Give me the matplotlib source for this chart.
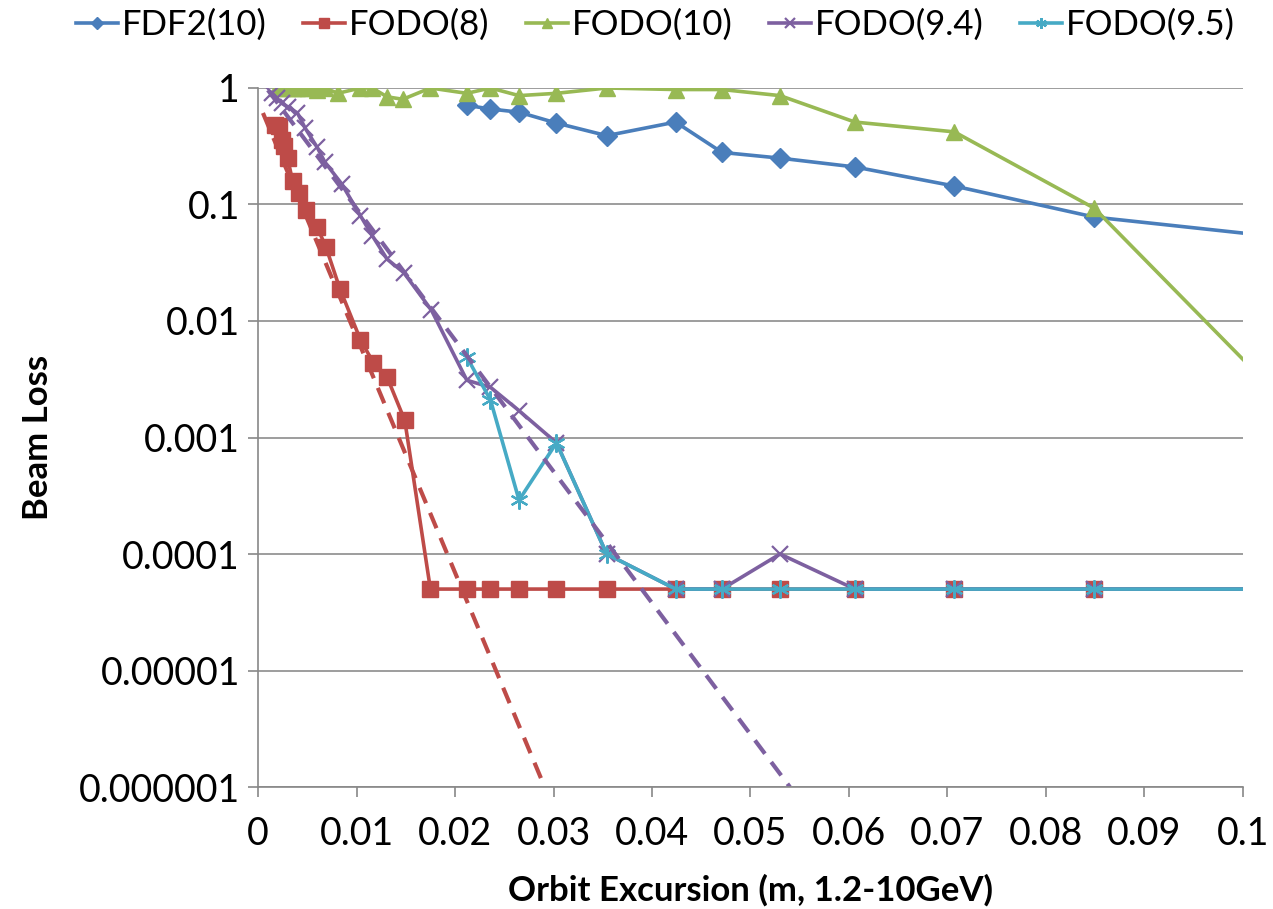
import matplotlib
matplotlib.use('Agg')
import matplotlib.pyplot as plt

plt.rcParams['font.family'] = ['Lato', 'DejaVu Sans']

# shared x points for the larger excursions
x_far = [0.0212, 0.0236, 0.0265, 0.0303, 0.0354, 0.0424, 0.0471, 0.0530, 0.0606, 0.0707, 0.0849, 0.1061]

# FDF2(10)
fdf2_x = x_far
fdf2_y = [0.71, 0.66, 0.62, 0.50, 0.39, 0.51, 0.28, 0.25, 0.21, 0.144, 0.078, 0.050]

# FODO(8)
f8_x = [0.0017, 0.0021, 0.0024, 0.00265, 0.0030, 0.0035, 0.0042, 0.0049, 0.0060, 0.0069, 0.0083,
        0.0104, 0.0117, 0.0131, 0.0149, 0.0175] + x_far
f8_y = [0.48, 0.47, 0.36, 0.32, 0.25, 0.16, 0.125, 0.09, 0.064, 0.043, 0.019,
        0.0069, 0.0044, 0.0033, 0.0014, 5e-5] + [5e-5] * 12

# FODO(10)
f10_x = [0.0019, 0.0024, 0.0029, 0.0035, 0.0040, 0.0045, 0.0051, 0.0060, 0.0068, 0.0081,
         0.0104, 0.0116, 0.0131, 0.0147, 0.0175] + x_far
f10_y = [1, 1, 1, 1, 1, 1, 1, 0.97, 1, 0.9, 1, 1, 0.84, 0.8, 1,
         0.9, 1, 0.86, 0.9, 1, 0.97, 0.97, 0.86, 0.51, 0.42, 0.093, 0.0014]

# FODO(9.4)
f94_x = [0.0014, 0.0019, 0.0024, 0.0030, 0.0040, 0.0048, 0.0060, 0.0068, 0.0085, 0.0104,
         0.0116, 0.0131, 0.0148, 0.0176] + x_far
f94_y = [0.91, 0.82, 0.74, 0.69, 0.61, 0.45, 0.31, 0.23, 0.15, 0.080,
         0.054, 0.034, 0.026, 0.0124,
         0.0031, 0.0027, 0.0017, 0.0009, 1e-4, 5e-5, 5e-5, 1e-4, 5e-5, 5e-5, 5e-5, 5e-5]

# FODO(9.5)
f95_x = x_far
f95_y = [0.0049, 0.0021, 0.00029, 0.0009, 1e-4, 5e-5, 5e-5, 5e-5, 5e-5, 5e-5, 5e-5, 5e-5]

# exponential trend lines (end points)
fit8_x = [0.0005, 0.0291]
fit8_y = [0.61, 1e-6]
fit94_x = [0.0010, 0.0540]
fit94_y = [0.96, 1e-6]

c_blue = '#4A7EBB'
c_red = '#BE4B48'
c_green = '#98B954'
c_purple = '#7D60A0'
c_cyan = '#46AAC5'

fig = plt.figure(figsize=(12.73, 9.09), dpi=100)
ax = fig.add_axes([0.2027, 0.1342, 0.7737, 0.769])

ax.plot(fdf2_x, fdf2_y, color=c_blue, lw=2.6, marker='D', ms=10.5, label='FDF2(10)')
ax.plot(f8_x, f8_y, color=c_red, lw=2.6, marker='s', ms=11, label='FODO(8)')
ax.plot(f10_x, f10_y, color=c_green, lw=2.6, marker='^', ms=12, label='FODO(10)')
ax.plot(f94_x, f94_y, color=c_purple, lw=2.6, marker='x', ms=12, mew=1.6, label='FODO(9.4)')
ax.plot(f95_x, f95_y, color=c_cyan, lw=2.6, marker=(6, 2, 0), ms=13, mew=1.6, label='FODO(9.5)')
ax.plot(fit8_x, fit8_y, color=c_red, lw=3, ls=(0, (4, 2.5)))
ax.plot(fit94_x, fit94_y, color=c_purple, lw=3, ls=(0, (4, 2.5)))

ax.set_yscale('log')
ax.set_xlim(0, 0.1)
ax.set_ylim(1e-6, 1)
ax.set_xticks([0, 0.01, 0.02, 0.03, 0.04, 0.05, 0.06, 0.07, 0.08, 0.09, 0.1])
ax.set_xticklabels(['0', '0.01', '0.02', '0.03', '0.04', '0.05', '0.06', '0.07', '0.08', '0.09', '0.1'])
ax.set_yticks([1e-6, 1e-5, 1e-4, 1e-3, 1e-2, 1e-1, 1])
ax.set_yticklabels(['0.000001', '0.00001', '0.0001', '0.001', '0.01', '0.1', '1'])
ax.minorticks_off()
ax.tick_params(axis='both', labelsize=27, color='#888888', length=7, width=1.2)
ax.tick_params(axis='x', pad=14)
ax.tick_params(axis='y', pad=6)
ax.grid(axis='y', color='#8C8C8C', lw=1.2)
ax.set_axisbelow(True)
for s in ['top', 'right']:
    ax.spines[s].set_visible(False)
for s in ['left', 'bottom']:
    ax.spines[s].set_color('#888888')
    ax.spines[s].set_linewidth(1.2)

ax.set_xlabel('Orbit Excursion (m, 1.2-10GeV)', fontsize=25, fontweight='bold', labelpad=16)
ax.set_ylabel('Beam Loss', fontsize=25, fontweight='bold', labelpad=18)

fig.legend(loc='upper center', bbox_to_anchor=(0.515, 1.025), ncol=5, frameon=False, fontsize=25,
           handlelength=1.2, handletextpad=0.12, columnspacing=1.05, markerscale=0.6)

fig.savefig('out.png', dpi=100)
